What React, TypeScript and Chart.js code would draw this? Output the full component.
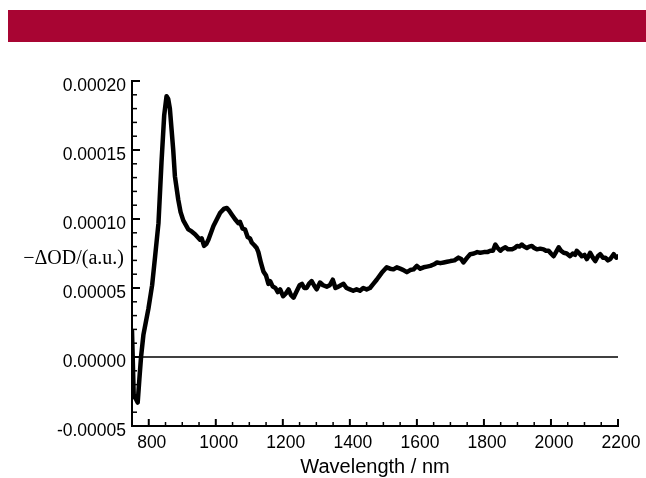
import React, { useEffect, useRef } from "react";
import { Chart, registerables } from "chart.js";

Chart.register(...registerables);

const wavelengths = [
  750, 755, 761, 767, 772, 777, 784, 799, 810, 819, 829, 838, 846, 853, 858, 863, 868, 873, 878, 888,
  895, 903, 918, 928, 938, 953, 958, 965, 972, 978, 993, 1013, 1025, 1033, 1040, 1047, 1057, 1067, 1072, 1080,
  1087, 1095, 1102, 1107, 1115, 1122, 1127, 1135, 1142, 1150, 1157, 1162, 1170, 1178, 1185, 1192, 1201, 1209, 1217, 1224,
  1232, 1242, 1250, 1257, 1264, 1271, 1278, 1286, 1293, 1301, 1311, 1320, 1331, 1340, 1349, 1357, 1366, 1373, 1381, 1390,
  1400, 1410, 1420, 1430, 1440, 1450, 1460, 1470, 1480, 1495, 1510, 1520, 1530, 1540, 1550, 1560, 1570, 1580, 1590, 1600,
  1610, 1620, 1630, 1640, 1650, 1660, 1670, 1680, 1690, 1700, 1712, 1724, 1732, 1739, 1750, 1759, 1770, 1780, 1789, 1800,
  1810, 1819, 1827, 1834, 1841, 1849, 1856, 1864, 1872, 1884, 1892, 1899, 1906, 1913, 1920, 1928, 1935, 1943, 1950, 1958,
  1968, 1978, 1985, 1993, 2000, 2008, 2015, 2023, 2030, 2038, 2047, 2057, 2065, 2072, 2077, 2085, 2092, 2100, 2107, 2112,
  2117, 2125, 2132, 2140, 2147, 2155, 2162, 2170, 2177, 2187, 2195, 2200,
];

const deltaOD = [
  1.9e-5, -2.7e-5, -3.0e-5, -3.3e-5, -1.6e-5, 0, 1.6e-5, 3.5e-5, 5.2e-5, 7.3e-5, 9.7e-5, 1.41e-4, 1.75e-4, 1.89e-4, 1.87e-4, 1.8e-4, 1.65e-4, 1.5e-4, 1.31e-4, 1.14e-4,
  1.05e-4, 9.9e-5, 9.25e-5, 9.1e-5, 8.9e-5, 8.5e-5, 8.6e-5, 8.05e-5, 8.2e-5, 8.5e-5, 9.5e-5, 1.045e-4, 1.075e-4, 1.08e-4, 1.06e-4, 1.035e-4, 1.0e-4, 9.7e-5, 9.8e-5, 9.3e-5,
  9.25e-5, 8.7e-5, 8.6e-5, 8.3e-5, 8.1e-5, 7.9e-5, 7.6e-5, 6.8e-5, 6.2e-5, 5.9e-5, 5.3e-5, 5.5e-5, 5.1e-5, 5.0e-5, 4.7e-5, 4.9e-5, 4.4e-5, 4.6e-5, 4.9e-5, 4.5e-5,
  4.3e-5, 4.8e-5, 5.2e-5, 5.3e-5, 5.0e-5, 5.0e-5, 5.3e-5, 5.5e-5, 5.2e-5, 4.9e-5, 5.4e-5, 5.2e-5, 5.1e-5, 5.2e-5, 5.6e-5, 5.0e-5, 5.1e-5, 5.2e-5, 5.3e-5, 5.0e-5,
  4.9e-5, 4.8e-5, 4.9e-5, 4.8e-5, 5.0e-5, 4.9e-5, 5.0e-5, 5.3e-5, 5.6e-5, 6.1e-5, 6.5e-5, 6.4e-5, 6.35e-5, 6.5e-5, 6.4e-5, 6.3e-5, 6.15e-5, 6.3e-5, 6.35e-5, 6.6e-5,
  6.4e-5, 6.5e-5, 6.55e-5, 6.6e-5, 6.7e-5, 6.85e-5, 6.8e-5, 6.85e-5, 6.9e-5, 6.95e-5, 7.0e-5, 7.2e-5, 7.1e-5, 6.85e-5, 7.2e-5, 7.45e-5, 7.5e-5, 7.6e-5, 7.55e-5, 7.6e-5,
  7.6e-5, 7.7e-5, 7.7e-5, 8.15e-5, 7.9e-5, 7.7e-5, 7.85e-5, 7.95e-5, 7.8e-5, 7.8e-5, 7.9e-5, 8.05e-5, 8.0e-5, 8.15e-5, 8.0e-5, 7.9e-5, 8.0e-5, 8.05e-5, 7.9e-5, 7.8e-5,
  7.85e-5, 7.8e-5, 7.7e-5, 7.7e-5, 7.5e-5, 7.3e-5, 7.6e-5, 7.95e-5, 7.7e-5, 7.55e-5, 7.5e-5, 7.3e-5, 7.5e-5, 7.4e-5, 7.7e-5, 7.5e-5, 7.3e-5, 7.4e-5, 7.1e-5, 7.3e-5,
  7.55e-5, 7.2e-5, 6.95e-5, 7.3e-5, 7.45e-5, 7.2e-5, 7.2e-5, 7.0e-5, 7.1e-5, 7.45e-5, 7.2e-5, 7.3e-5,
];

const zeroLineX = [750, 2200];
const zeroLineY = [0, 0];

const xTicks = [800, 1000, 1200, 1400, 1600, 1800, 2000, 2200];
const xMinorTicks = [850, 900, 950, 1050, 1100, 1150, 1250, 1300, 1350, 1450, 1500, 1550, 1650, 1700, 1750, 1850, 1900, 1950, 2050, 2100, 2150];
const yTicks = [-0.00005, 0, 0.00005, 0.0001, 0.00015, 0.0002];
const yMinorTicks = [
  -0.00004, -0.00003, -0.00002, -0.00001,
  0.00001, 0.00002, 0.00003, 0.00004,
  0.00006, 0.00007, 0.00008, 0.00009,
  0.00011, 0.00012, 0.00013, 0.00014,
  0.00016, 0.00017, 0.00018, 0.00019,
];
const yLabel = "\u2212\u0394OD/(a.u.)";
const xLabel = "Wavelength / nm";

const innerTicksPlugin = {
  id: "innerTicks",
  afterDraw(chart: any) {
    const ctx = chart.ctx;
    const xs = chart.scales.x;
    const ys = chart.scales.y;
    const area = chart.chartArea;
    ctx.save();
    ctx.strokeStyle = "#000";
    ctx.lineCap = "butt";
    const drawX = (v: number, len: number, w: number) => {
      const px = xs.getPixelForValue(v);
      ctx.lineWidth = w;
      ctx.beginPath();
      ctx.moveTo(px, area.bottom);
      ctx.lineTo(px, area.bottom - len);
      ctx.stroke();
    };
    const drawY = (v: number, len: number, w: number) => {
      const py = ys.getPixelForValue(v);
      ctx.lineWidth = w;
      ctx.beginPath();
      ctx.moveTo(area.left, py);
      ctx.lineTo(area.left + len, py);
      ctx.stroke();
    };
    xTicks.forEach((v) => drawX(v, 7, 2));
    xMinorTicks.forEach((v) => drawX(v, 4, 1.5));
    yTicks.forEach((v) => drawY(v, 8, 2));
    yMinorTicks.forEach((v) => drawY(v, 5, 1.5));

    // horizontal y-axis label
    ctx.fillStyle = "#000";
    ctx.font = '20px "Liberation Serif", "Times New Roman", serif';
    ctx.textAlign = "right";
    ctx.textBaseline = "middle";
    ctx.fillText(yLabel, 124, ys.getPixelForValue(0.000071));
    ctx.restore();
  },
};

export default function App() {
  const ref = useRef<HTMLCanvasElement | null>(null);

  useEffect(() => {
    if (!ref.current) return;
    const chart = new Chart(ref.current, {
      type: "line",
      data: {
        datasets: [
          {
            data: wavelengths.map((x, i) => ({ x, y: deltaOD[i] })),
            borderColor: "#000",
            borderWidth: 4.5,
            pointRadius: 0,
            tension: 0,
            borderJoinStyle: "round",
            borderCapStyle: "round",
            fill: false,
          },
          {
            data: zeroLineX.map((x, i) => ({ x, y: zeroLineY[i] })),
            borderColor: "#000",
            borderWidth: 1.5,
            pointRadius: 0,
            fill: false,
          },
        ],
      },
      options: {
        animation: false,
        responsive: false,
        maintainAspectRatio: false,
        layout: { padding: { left: 0, top: 81, right: 28, bottom: 0 } },
        plugins: {
          legend: { display: false },
          tooltip: { enabled: false },
          title: { display: false },
        },
        scales: {
          x: {
            type: "linear",
            min: 750,
            max: 2200,
            afterBuildTicks: (scale: any) => {
              scale.ticks = xTicks.map((value) => ({ value }));
            },
            afterFit: (scale: any) => {
              scale.height = 52;
            },
            grid: { display: false, drawTicks: false },
            border: { display: true, color: "#000", width: 2 },
            ticks: {
              color: "#000",
              padding: 7,
              labelOffset: 3,
              maxRotation: 0,
              autoSkip: false,
              font: { family: '"Liberation Sans", Arial, sans-serif', size: 17.5 },
              callback: (v: any) => String(v),
            },
            title: {
              display: true,
              text: xLabel,
              color: "#000",
              padding: { top: 0, bottom: 0 },
              font: { family: '"Liberation Sans", Arial, sans-serif', size: 20, lineHeight: 1.1 },
            },
          },
          y: {
            type: "linear",
            min: -0.00005,
            max: 0.0002,
            afterBuildTicks: (scale: any) => {
              scale.ticks = yTicks.map((value) => ({ value }));
            },
            afterFit: (scale: any) => {
              scale.width = 132;
            },
            grid: { display: false, drawTicks: false },
            border: { display: true, color: "#000", width: 2 },
            ticks: {
              color: "#000",
              padding: 6,
              labelOffset: 5,
              autoSkip: false,
              font: { family: '"Liberation Sans", Arial, sans-serif', size: 17.5 },
              callback: (v: any) => Number(v).toFixed(5),
            },
          },
        },
      },
      plugins: [innerTicksPlugin],
    } as any);
    return () => chart.destroy();
  }, []);

  return (
    <div style={{ position: "absolute", left: 0, top: 0, width: 646, height: 478, overflow: "hidden", background: "#fff" }}>
      <div style={{ position: "absolute", left: 8, top: 10, width: 638, height: 32, background: "#A80533" }} />
      <canvas ref={ref} width={646} height={478} style={{ position: "absolute", left: 0, top: 0, width: 646, height: 478 }} />
    </div>
  );
}
